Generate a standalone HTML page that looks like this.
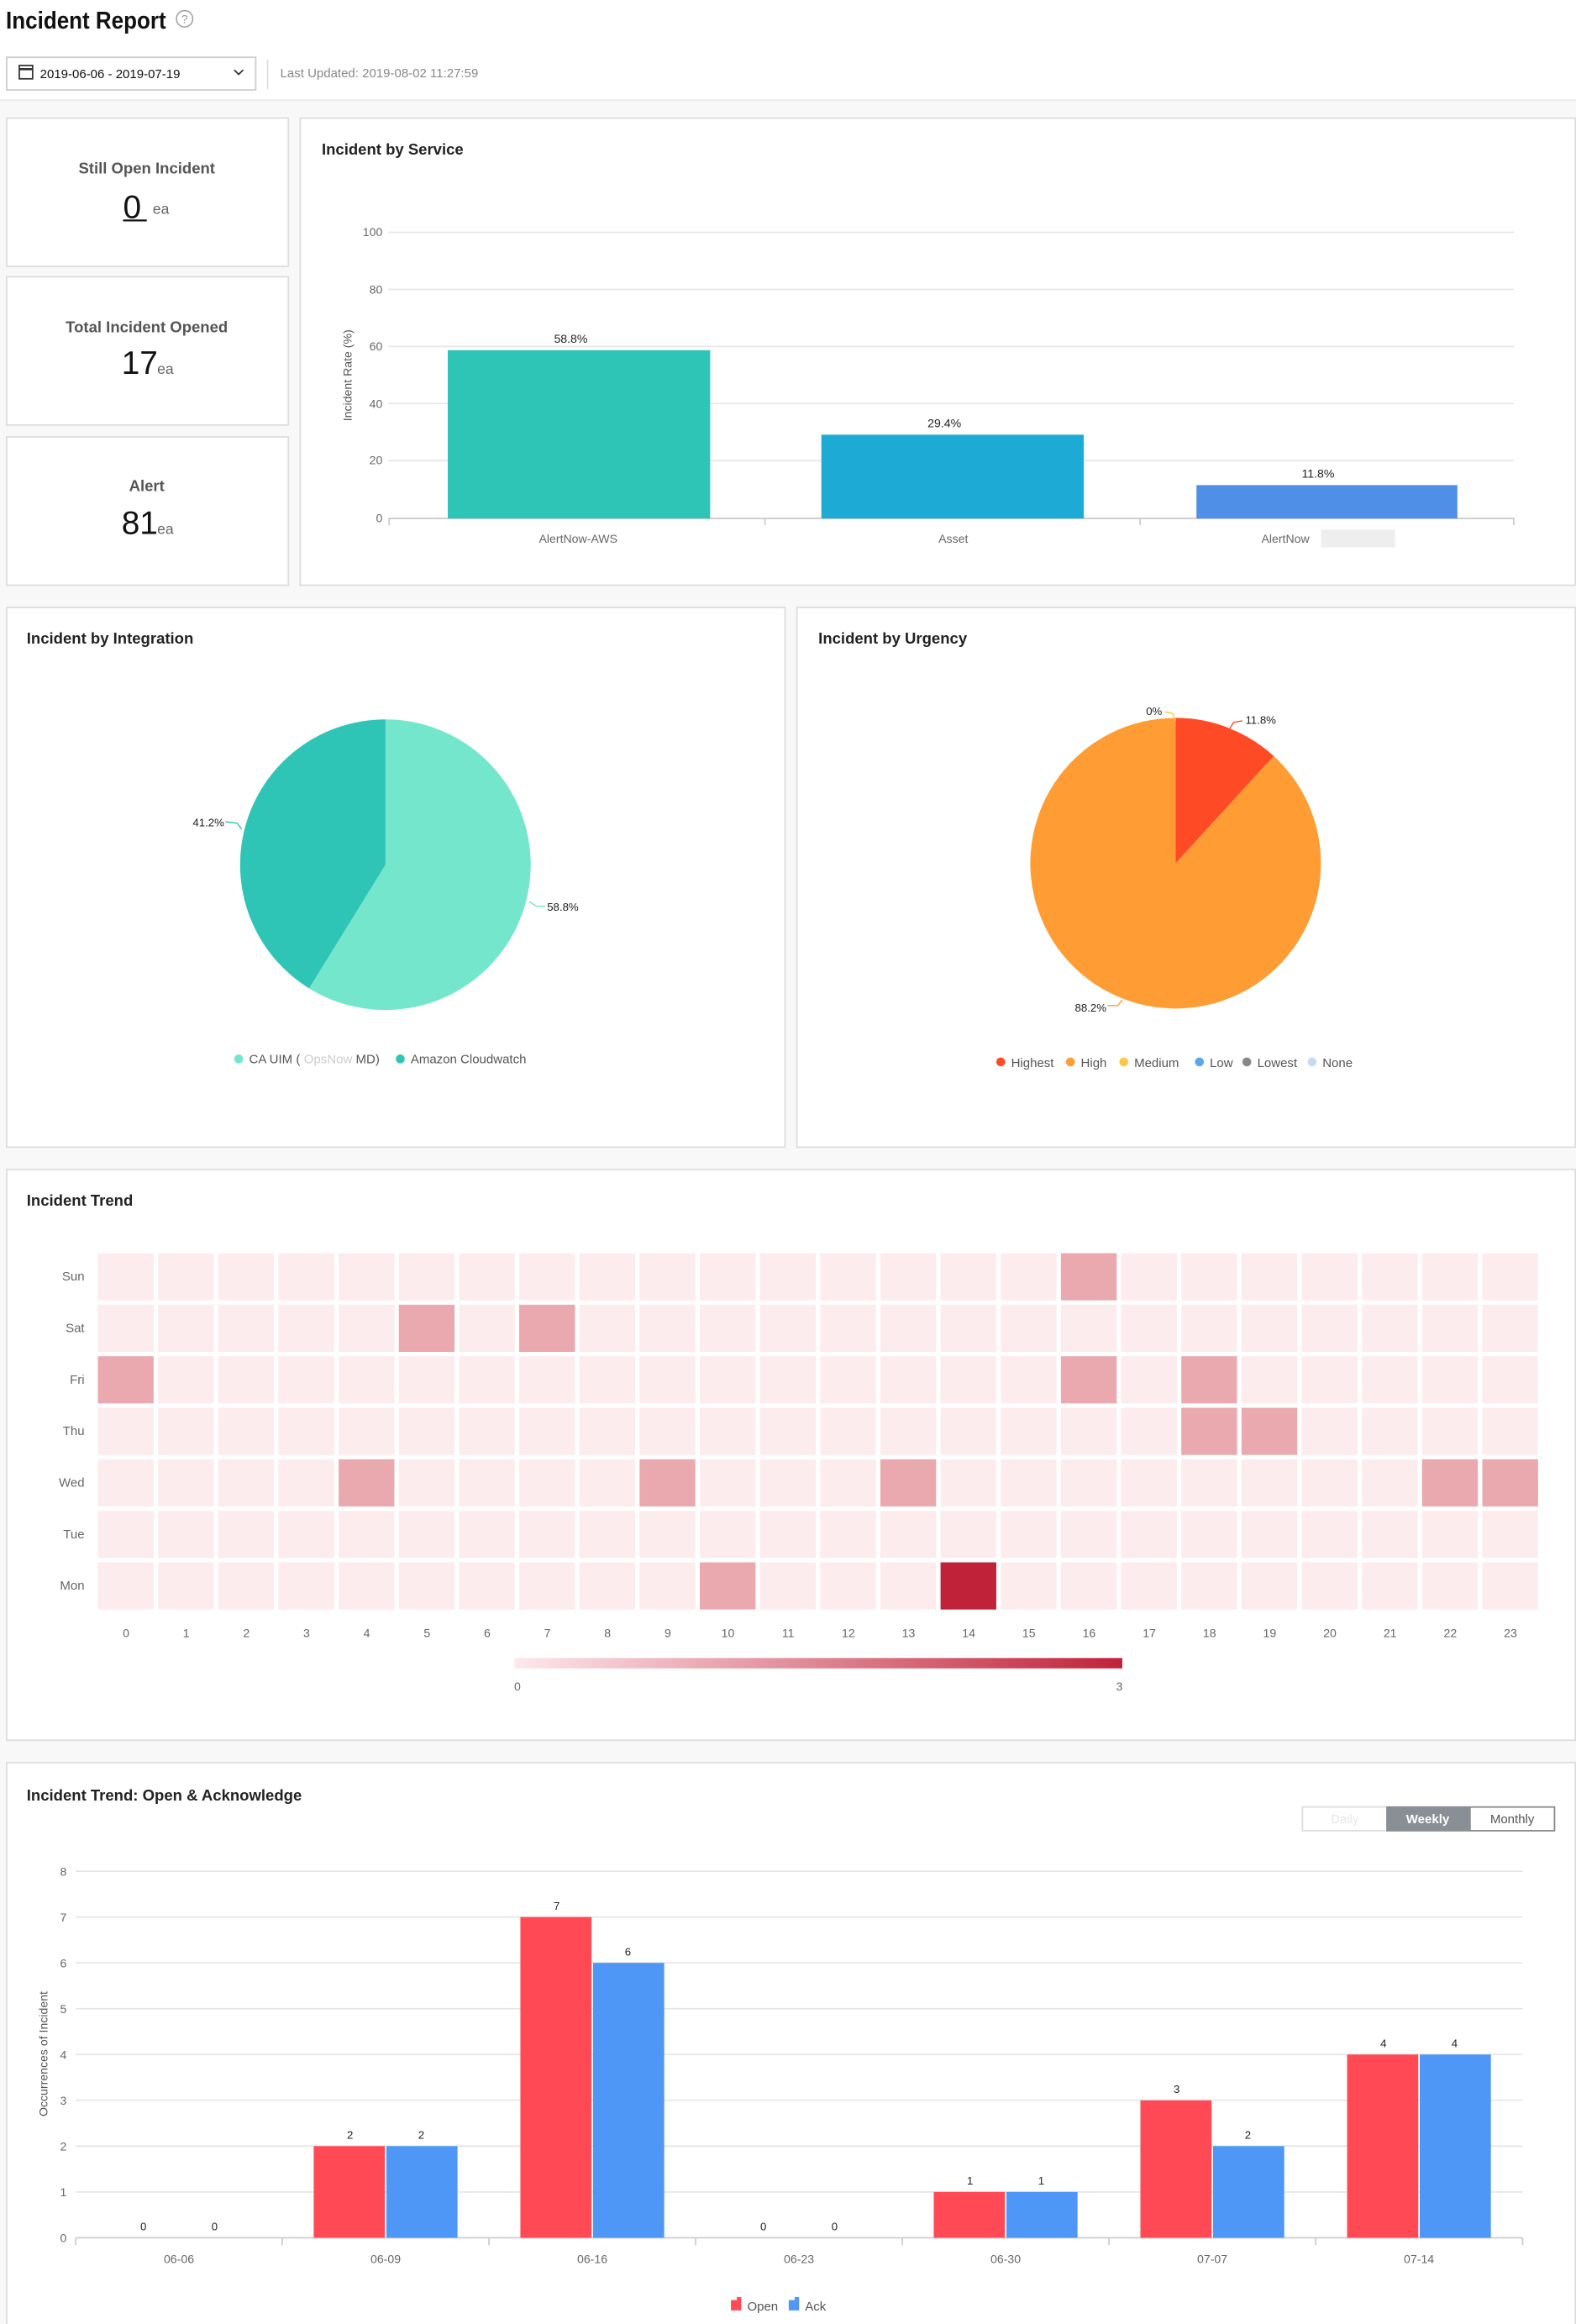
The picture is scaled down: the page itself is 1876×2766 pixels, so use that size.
<!DOCTYPE html>
<html><head><meta charset="utf-8"><style>
html,body{margin:0;padding:0;background:#fff}
svg{display:block}
text{font-family:"Liberation Sans",sans-serif}
</style></head><body>
<svg id="s" width="1876" height="2766" viewBox="0 0 1063 1567" xmlns="http://www.w3.org/2000/svg">
<rect x="0" y="0" width="1063" height="1567" fill="#f8f8f8"/>
<rect x="0" y="0" width="1063" height="67" fill="#fff"/>
<line x1="0" y1="67.5" x2="1063" y2="67.5" stroke="#e6e6e6"/>
<text x="4" y="19" font-size="16" font-weight="bold" fill="#111" textLength="108" lengthAdjust="spacingAndGlyphs">Incident Report</text>
<circle cx="124.5" cy="12.5" r="5.5" fill="none" stroke="#999" stroke-width="0.8"/>
<text x="124.5" y="15.5" font-size="8" fill="#999" text-anchor="middle">?</text>
<rect x="4.5" y="38.5" width="168" height="22" fill="#fff" stroke="#ccc"/>
<rect x="13" y="44" width="9" height="9" fill="none" stroke="#333" stroke-width="1"/>
<line x1="13" y1="46.5" x2="22" y2="46.5" stroke="#333" stroke-width="1.5"/>
<text x="27" y="52.5" font-size="8.5" fill="#111">2019-06-06 - 2019-07-19</text>
<path d="M158 47 L161 50 L164 47" fill="none" stroke="#333" stroke-width="1"/>
<line x1="180.5" y1="40" x2="180.5" y2="60" stroke="#ddd"/>
<text x="189" y="52" font-size="8.5" fill="#888">Last Updated: 2019-08-02 11:27:59</text>

<g fill="#fff" stroke="#ddd">
<rect x="4.5" y="79.5" width="190" height="100"/>
<rect x="4.5" y="186.5" width="190" height="100"/>
<rect x="4.5" y="294.5" width="190" height="100"/>
<rect x="202.5" y="79.5" width="860" height="315"/>
<rect x="4.5" y="409.5" width="525" height="364"/>
<rect x="537.5" y="409.5" width="525" height="364"/>
<rect x="4.5" y="788.5" width="1058" height="385"/>
<rect x="4.5" y="1188.5" width="1058" height="380"/>
</g>

<g font-weight="bold" fill="#555" font-size="10.5" text-anchor="middle">
<text x="99" y="117">Still Open Incident</text>
<text x="99" y="224">Total Incident Opened</text>
<text x="99" y="331">Alert</text>
</g>
<text x="83" y="147" font-size="22" fill="#111">0</text>
<line x1="83" y1="148.5" x2="99" y2="148.5" stroke="#111" stroke-width="1.3"/>
<text x="103" y="144" font-size="10" fill="#666">ea</text>
<text x="82" y="252" font-size="22" fill="#111">17</text>
<text x="106" y="252" font-size="10" fill="#666">ea</text>
<text x="82" y="360" font-size="22" fill="#111">81</text>
<text x="106" y="360" font-size="10" fill="#666">ea</text>

<g font-weight="bold" fill="#222" font-size="10.5">
<text x="217" y="104">Incident by Service</text>
<text x="18" y="434">Incident by Integration</text>
<text x="552" y="434">Incident by Urgency</text>
<text x="18" y="813">Incident Trend</text>
<text x="18" y="1214">Incident Trend: Open &amp; Acknowledge</text>
</g>

<g stroke="#e6e6e6">
<line x1="262" y1="156.5" x2="1021" y2="156.5"/><line x1="262" y1="195" x2="1021" y2="195"/>
<line x1="262" y1="233.5" x2="1021" y2="233.5"/><line x1="262" y1="272" x2="1021" y2="272"/>
<line x1="262" y1="310.5" x2="1021" y2="310.5"/>
</g>
<line x1="262" y1="349.5" x2="1021" y2="349.5" stroke="#ccc"/>
<g stroke="#ccc"><line x1="262.5" y1="349" x2="262.5" y2="354"/><line x1="516" y1="349" x2="516" y2="354"/><line x1="769" y1="349" x2="769" y2="354"/><line x1="1021" y1="349" x2="1021" y2="354"/></g>
<g font-size="8" fill="#666" text-anchor="end">
<text x="258" y="159">100</text><text x="258" y="198">80</text><text x="258" y="236">60</text>
<text x="258" y="275">40</text><text x="258" y="313">20</text><text x="258" y="352">0</text>
</g>
<text transform="translate(237,253) rotate(-90)" font-size="8" fill="#555" text-anchor="middle">Incident Rate (%)</text>
<rect x="302" y="236" width="177" height="113.5" fill="#2ec4b6"/>
<rect x="554" y="293" width="177" height="56.5" fill="#1dabd5"/>
<rect x="807" y="327" width="176" height="22.5" fill="#4f8fe8"/>
<g font-size="8" fill="#222" text-anchor="middle">
<text x="385" y="231">58.8%</text><text x="637" y="288">29.4%</text><text x="889" y="322">11.8%</text>
</g>
<g font-size="8" fill="#666" text-anchor="middle">
<text x="390" y="366">AlertNow-AWS</text><text x="643" y="366">Asset</text><text x="867" y="366">AlertNow</text>
</g>
<rect x="891" y="357" width="50" height="12" fill="#eee"/>

<path d="M260,583 L260,485 A98,98 0 1 1 208.5,666.4 Z" fill="#74e6cc"/>
<path d="M260,583 L208.5,666.4 A98,98 0 0 1 260,485 Z" fill="#2ec4b6"/>
<path d="M152,554 L160,555 L163,559" fill="none" stroke="#2ec4b6" stroke-width="0.8"/>
<path d="M357,608 L362,611 L368,611" fill="none" stroke="#74e6cc" stroke-width="0.8"/>
<g font-size="7.5" fill="#222"><text x="130" y="557">41.2%</text><text x="369" y="614">58.8%</text></g>
<circle cx="161" cy="714" r="3" fill="#74e6cc"/><circle cx="270" cy="714" r="3" fill="#2ec4b6"/>
<g font-size="8.5" fill="#555"><text x="168" y="717">CA UIM (</text><text x="205" y="717" fill="#ccc">OpsNow</text><text x="240" y="717">MD)</text><text x="277" y="717">Amazon Cloudwatch</text></g>

<path d="M793,582 L793,484 A98,98 0 0 1 859.1,509.7 Z" fill="#ff4a26"/>
<path d="M793,582 L859.1,509.7 A98,98 0 1 1 793,484 Z" fill="#ff9c33"/>
<path d="M786,480 L791,481 L793,486" fill="none" stroke="#ffc840" stroke-width="0.8"/>
<path d="M829,492 L832,487 L838,486" fill="none" stroke="#ff4a26" stroke-width="0.8"/>
<path d="M747,678 L754,678 L757,674" fill="none" stroke="#ff9c33" stroke-width="0.8"/>
<g font-size="7.5" fill="#222"><text x="773" y="482">0%</text><text x="840" y="488">11.8%</text><text x="725" y="682">88.2%</text></g>
<g font-size="8.5" fill="#555">
<circle cx="675" cy="716" r="3" fill="#ff4a26"/><text x="682" y="719.5">Highest</text>
<circle cx="722" cy="716" r="3" fill="#ff9c33"/><text x="729" y="719.5">High</text>
<circle cx="758" cy="716" r="3" fill="#ffc840"/><text x="765" y="719.5">Medium</text>
<circle cx="809" cy="716" r="3" fill="#5aa7f0"/><text x="816" y="719.5">Low</text>
<circle cx="841" cy="716" r="3" fill="#888"/><text x="848" y="719.5">Lowest</text>
<circle cx="885" cy="716" r="3" fill="#c5dbf5"/><text x="892" y="719.5">None</text>
</g>

<g id="heat"></g>
<defs><linearGradient id="g1"><stop offset="0" stop-color="#fde8ea"/><stop offset="1" stop-color="#c0223a"/></linearGradient></defs>
<rect x="347" y="1118" width="410" height="7" fill="url(#g1)"/>
<g font-size="8" fill="#666" text-anchor="middle"><text x="349" y="1140">0</text><text x="755" y="1140">3</text></g>

<rect x="878.5" y="1218.5" width="57" height="16" fill="#fff" stroke="#ddd"/>
<rect x="935" y="1218" width="56" height="17" fill="#8a8f96"/>
<rect x="991.5" y="1218.5" width="57" height="16" fill="#fff" stroke="#888"/>
<g font-size="8.5" text-anchor="middle"><text x="907" y="1229.5" fill="#e6e6e6">Daily</text><text x="963" y="1229.5" fill="#fff" font-weight="bold">Weekly</text><text x="1020" y="1229.5" fill="#555">Monthly</text></g>
<g id="oa"></g>
<text transform="translate(32,1385) rotate(-90)" font-size="8" fill="#555" text-anchor="middle">Occurrences of Incident</text>
<rect x="493" y="1551" width="4" height="7" fill="#ff4a55"/><rect x="497" y="1549" width="3" height="9" fill="#ff4a55"/>
<rect x="532" y="1551" width="4" height="7" fill="#4f97f7"/><rect x="536" y="1549" width="3" height="9" fill="#4f97f7"/>
<g font-size="8.5" fill="#555"><text x="504" y="1558">Open</text><text x="543" y="1558">Ack</text></g>
</svg>
<script>
var NS="http://www.w3.org/2000/svg";
function el(p,t,a,txt){var e=document.createElementNS(NS,t);for(var k in a)e.setAttribute(k,a[k]);if(txt!=null)e.textContent=txt;p.appendChild(e);return e;}
var h=document.getElementById("heat");
var days=["Sun","Sat","Fri","Thu","Wed","Tue","Mon"];
var hi={"0,16":1,"1,5":1,"1,7":1,"2,0":1,"2,16":1,"2,18":1,"3,18":1,"3,19":1,"4,4":1,"4,9":1,"4,13":1,"4,22":1,"4,23":1,"6,10":1,"6,14":3};
for(var j=0;j<7;j++){
 var y=845+j*34.75;
 el(h,"text",{x:57,y:y+18.5,"font-size":8.5,fill:"#666","text-anchor":"end"},days[j]);
 for(var i=0;i<24;i++){
  var v=hi[j+","+i]||0;
  el(h,"rect",{x:66+i*40.6,y:y,width:37.6,height:31.8,fill:v==3?"#c0223a":v==1?"#e9a9ae":"#fdeced"});
 }
}
for(var i=0;i<24;i++) el(h,"text",{x:85+i*40.6,y:1104,"font-size":8,fill:"#666","text-anchor":"middle"},i);
var o=document.getElementById("oa");
for(var k=0;k<=8;k++){var y=1509-k*30.9;
 el(o,"line",{x1:51,x2:1027,y1:y,y2:y,stroke:k==0?"#ccc":"#e6e6e6"});
 el(o,"text",{x:45,y:y+3,"font-size":8,fill:"#666","text-anchor":"end"},k);}
var lab=["06-06","06-09","06-16","06-23","06-30","07-07","07-14"],op=[0,2,7,0,1,3,4],ak=[0,2,6,0,1,2,4];
for(var i=0;i<7;i++){var c=51+139.4*(i+0.5);
 el(o,"line",{x1:51+139.4*i,x2:51+139.4*i,y1:1509,y2:1514,stroke:"#ccc"});
 el(o,"rect",{x:c-48.5,y:1509-op[i]*30.9,width:48,height:op[i]*30.9,fill:"#ff4a55"});
 el(o,"rect",{x:c+0.5,y:1509-ak[i]*30.9,width:48,height:ak[i]*30.9,fill:"#4f97f7"});
 el(o,"text",{x:c-24,y:1504-op[i]*30.9,"font-size":7.5,fill:"#222","text-anchor":"middle"},op[i]);
 el(o,"text",{x:c+24,y:1504-ak[i]*30.9,"font-size":7.5,fill:"#222","text-anchor":"middle"},ak[i]);
 el(o,"text",{x:c,y:1526,"font-size":8,fill:"#666","text-anchor":"middle"},lab[i]);}
el(o,"line",{x1:1027,x2:1027,y1:1509,y2:1514,stroke:"#ccc"});
</script>
</body></html>
